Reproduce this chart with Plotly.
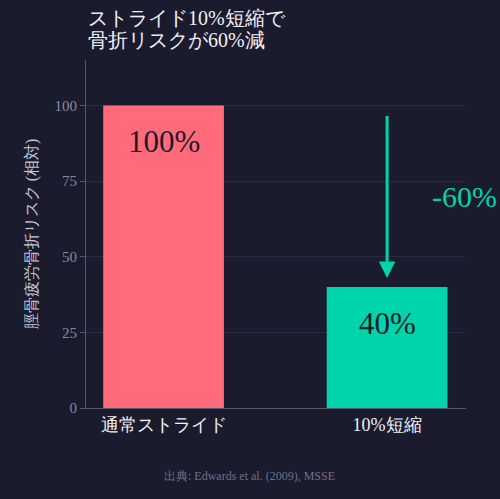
import plotly.graph_objects as go

categories = ["通常ストライド", "10%短縮"]
values = [100, 40]
bar_colors = ["#ff6b7a", "#00d4aa"]
bar_labels = ["100%", "40%"]
arrow_from = 97
arrow_to = 43
change_label = "-60%"
y_ticks = [0, 25, 50, 75, 100]
title_lines = ["ストライド10%短縮で", "骨折リスクが60%減"]

BG = "#1b1b2e"
FONT = "serif"

fig = go.Figure()
fig.add_trace(go.Bar(
    x=[0, 1], y=values, marker=dict(color=bar_colors, line=dict(width=0)),
    width=0.54, hoverinfo="skip",
))

for i, (v, lab) in enumerate(zip(values, bar_labels)):
    fig.add_annotation(x=i, y=v - 12, text=lab, showarrow=False,
                       font=dict(family=FONT, size=31, color="#1b1b2e"))

fig.add_annotation(x=1, y=arrow_to, ax=1, ay=arrow_from, xref="x", yref="y",
                   axref="x", ayref="y", text="", showarrow=True,
                   arrowhead=2, arrowsize=1.1, arrowwidth=3, arrowcolor="#00d4aa")
fig.add_annotation(x=1.345, y=70, text=change_label, showarrow=False,
                   font=dict(family=FONT, size=30, color="#00d4aa"))

fig.add_annotation(x=0.43, y=-0.222, xref="paper", yref="paper",
                   text="出典: Edwards et al. (2009), MSSE", showarrow=False,
                   font=dict(family=FONT, size=12, color="#707088"))

for line, yp in zip(title_lines, [1.1207, 1.0575]):
    fig.add_annotation(x=0, y=yp, xref="paper", yref="paper", xanchor="left",
                       yanchor="middle", showarrow=False, text=line,
                       font=dict(family=FONT, size=20, color="#f0f0f5"))

fig.update_layout(
    width=500, height=499,
    paper_bgcolor=BG, plot_bgcolor=BG,
    margin=dict(l=86, r=34, t=60, b=91),
    showlegend=False,
    font=dict(family=FONT, color="#e8e8f0"),
    xaxis=dict(tickvals=[0, 1], ticktext=categories, range=[-0.347, 1.353],
               showgrid=False, showline=True, linecolor="#55566a", linewidth=1,
               tickfont=dict(family=FONT, size=18, color="#f0f0f5"), ticks="",
               zeroline=False),
    yaxis=dict(range=[0, 115], tickvals=y_ticks, showgrid=True, gridcolor="#2a2b42",
               showline=True, linecolor="#55566a", linewidth=1, ticks="outside",
               ticklen=5, tickcolor="#55566a", zeroline=False,
               tickfont=dict(family=FONT, size=15, color="#8a8aa0"),
               title=dict(text="脛骨疲労骨折リスク (相対)", standoff=12,
                          font=dict(family=FONT, size=16, color="#c8c8d4"))),
)

fig.write_html("out.html", config={"displayModeBar": False},
               post_script="document.body.style.margin='0';document.body.style.background='%s';" % BG)
